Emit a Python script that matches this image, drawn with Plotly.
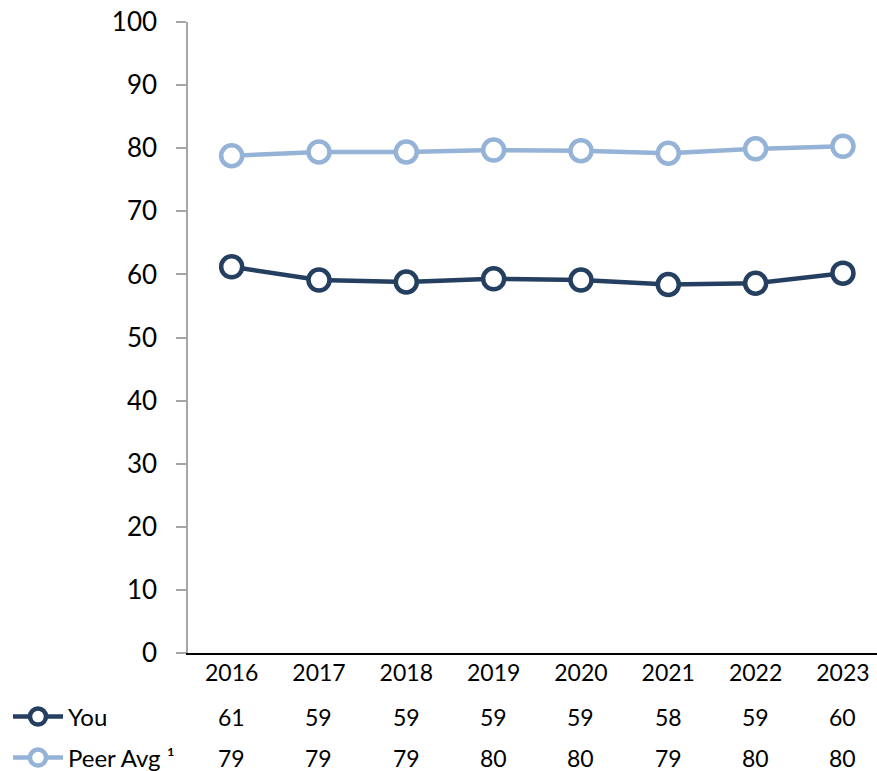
import plotly.graph_objects as go

# Survey years and scores
years = ["2016", "2017", "2018", "2019", "2020", "2021", "2022", "2023"]
you_scores = [61.2, 59.1, 58.8, 59.3, 59.1, 58.4, 58.6, 60.2]
peer_scores = [78.8, 79.4, 79.4, 79.7, 79.6, 79.2, 79.9, 80.3]

series_names = ["You", "Peer Avg \u00b9"]
series_colors = ["#243f60", "#95b3d7"]
series_values = [you_scores, peer_scores]

y_ticks = list(range(0, 101, 10))

W, H = 877, 771
L, R, T, B = 188, 0, 22, 118
plot_h = H - T - B

FONT = "Lato"

fig = go.Figure()

row_centers_px = [717, 758]
legend_ids = ["legend", "legend2"]

for name, color, vals, lid in zip(series_names, series_colors, series_values, legend_ids):
    fig.add_trace(go.Scatter(
        x=years, y=vals, name=name, mode="lines+markers",
        line=dict(color=color, width=4.5),
        marker=dict(symbol="circle", size=21, color="white",
                    line=dict(color=color, width=4.5)),
        legend=lid, hoverinfo="skip", cliponaxis=False,
    ))

# Value table under the axis, one row per series, aligned to each year
annotations = []
for vals, row_px in zip(series_values, row_centers_px):
    ypos = -(row_px - (H - B)) / plot_h
    for i, v in enumerate(vals):
        annotations.append(dict(
            x=i, y=ypos, xref="x", yref="paper", text=str(round(v)),
            showarrow=False, xanchor="center", yanchor="middle",
            font=dict(family=FONT, size=23, color="black"),
        ))

plot_w = W - L - R
leg_x = (8 - L) / plot_w


def legend_cfg(row_px):
    return dict(
        x=leg_x, xanchor="left",
        y=-(row_px - (H - B)) / plot_h, yanchor="middle",
        font=dict(family=FONT, size=24, color="black"),
        bgcolor="rgba(0,0,0,0)", borderwidth=0,
        itemwidth=50, itemsizing="trace",
    )


fig.update_layout(
    width=W, height=H,
    margin=dict(l=L, r=R, t=T, b=B, pad=0, autoexpand=False),
    paper_bgcolor="white", plot_bgcolor="white",
    showlegend=True,
    legend=legend_cfg(row_centers_px[0]),
    legend2=legend_cfg(row_centers_px[1]),
    annotations=annotations,
    xaxis=dict(
        type="category", categoryorder="array", categoryarray=years,
        range=[-0.5, 7.39], showgrid=False, zeroline=False,
        showline=True, linecolor="black", linewidth=2,
        ticks="", tickfont=dict(family=FONT, size=23, color="black"),
        ticklabelstandoff=-2,
    ),
    yaxis=dict(
        range=[0, 100], tickvals=y_ticks, showgrid=False, zeroline=False,
        showline=True, linecolor="#a6a6a6", linewidth=1.5,
        ticks="outside", ticklen=10, tickcolor="#a6a6a6", tickwidth=1.5,
        tickfont=dict(family=FONT, size=26, color="black"),
        ticklabelstandoff=14,
    ),
)

fig.write_html("out.html", config={"displayModeBar": False})
